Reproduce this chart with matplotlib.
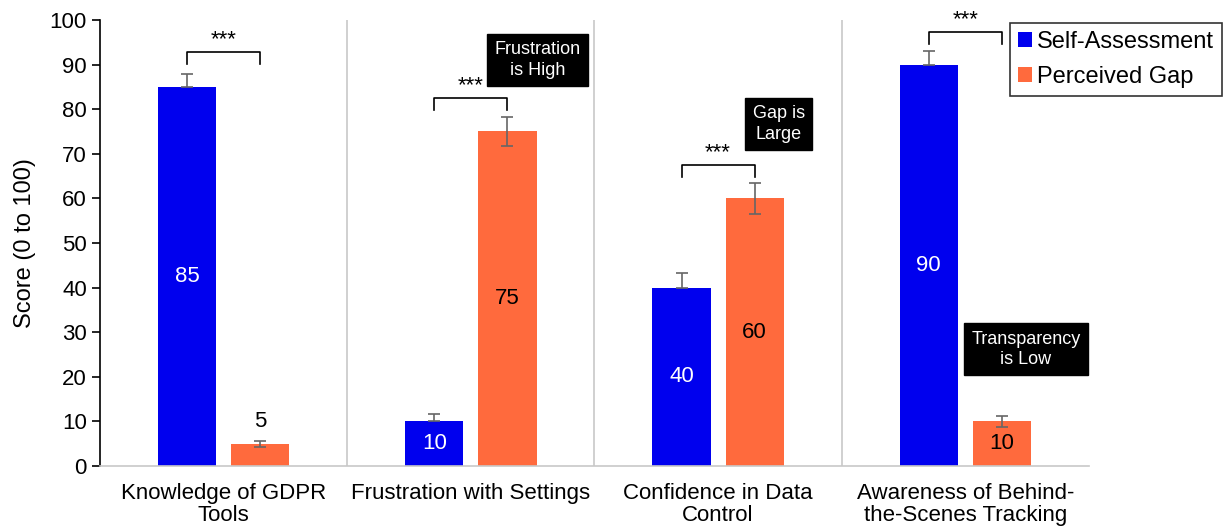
import numpy as np
import matplotlib.pyplot as plt

plt.rcParams['font.family'] = ['Liberation Sans', 'DejaVu Sans']

categories = ['Knowledge of GDPR\nTools', 'Frustration with Settings',
              'Confidence in Data\nControl', 'Awareness of Behind-\nthe-Scenes Tracking']
self_assess = [85, 10, 40, 90]
self_err = [3, 1.7, 3.3, 3]
perceived = [5, 75, 60, 10]
perceived_err = [0.7, 3.3, 3.4, 1.2]

# bracket heights for the *** markers
bracket_y = [92.8, 82.5, 67.5, 97.3]

notes = ['Frustration\nis High', 'Gap is\nLarge', 'Transparency\nis Low']
note_cat = [1, 2, 3]
note_y = [91, 76.7, 26.2]

blue = '#0000EE'
orange = '#FF6A3D'

fig = plt.figure(figsize=(12.24, 5.30), dpi=100)
ax = fig.add_axes([0.0817, 0.1208, 0.808, 0.8415])

x = np.arange(len(categories))
off = 0.148
w = 0.235

b1 = ax.bar(x - off, self_assess, w, color=blue, label='Self-Assessment', zorder=2)
b2 = ax.bar(x + off, perceived, w, color=orange, label='Perceived Gap', zorder=2)
ax.errorbar(x - off, self_assess, yerr=[np.zeros(4), self_err], fmt='none',
            ecolor='#666666', elinewidth=1.2, capsize=4, capthick=1.2, zorder=3)
ax.errorbar(x + off, perceived, yerr=perceived_err, fmt='none',
            ecolor='#666666', elinewidth=1.2, capsize=4, capthick=1.2, zorder=3)

# value labels
for i in range(len(categories)):
    ax.text(x[i] - off, self_assess[i] / 2, str(self_assess[i]), ha='center',
            va='center', color='white', fontsize=16, zorder=4)
    if i == 0:
        ax.text(x[i] + off, perceived[i] + 5, str(perceived[i]), ha='center',
                va='center', color='black', fontsize=16, zorder=4)
    else:
        ax.text(x[i] + off, perceived[i] / 2, str(perceived[i]), ha='center',
                va='center', color='black', fontsize=16, zorder=4)

# significance brackets
for i in range(len(categories)):
    y = bracket_y[i]
    ax.plot([x[i] - off, x[i] - off, x[i] + off, x[i] + off],
            [y - 2.7, y, y, y - 2.7], color='black', lw=1.2, zorder=4)
    ax.text(x[i], y + 0.4, '***', ha='center', va='bottom', fontsize=16, zorder=4)

# callout boxes
for c, t, y in zip(note_cat, notes, note_y):
    ax.text(c + 0.27 if c == 1 else c + 0.245, y, t, ha='center', va='center',
            color='white', fontsize=13, linespacing=1.25, zorder=5,
            bbox=dict(boxstyle='square,pad=0.4', fc='black', ec='black'))

# category separators
for s in [0.5, 1.5, 2.5]:
    ax.axvline(s, color='#c8c8c8', lw=1.2, zorder=1)

ax.set_xlim(-0.5, 3.5)
ax.set_ylim(0, 100)
ax.set_yticks(np.arange(0, 101, 10))
ax.set_xticks(x)
ax.set_xticklabels(categories, fontsize=16, linespacing=1.1)
ax.tick_params(axis='x', length=0, pad=12)
ax.tick_params(axis='y', labelsize=16, length=6, width=1.2, direction='out')
ax.set_ylabel('Score (0 to 100)', fontsize=17, labelpad=10)

for s in ['top', 'right']:
    ax.spines[s].set_visible(False)
ax.spines['left'].set_color('black')
ax.spines['left'].set_linewidth(1.2)
ax.spines['bottom'].set_color('#c8c8c8')
ax.spines['bottom'].set_linewidth(1.2)

leg = fig.legend(handles=[b1, b2], loc='upper right',
                 bbox_to_anchor=(0.9985, 0.957), fontsize=17, frameon=True,
                 fancybox=False, edgecolor='black', handlelength=0.6,
                 handleheight=0.6, handletextpad=0.2, borderpad=0.35,
                 labelspacing=0.55, borderaxespad=0)
leg.get_frame().set_linewidth(1.2)

fig.savefig('out.png', dpi=100)
